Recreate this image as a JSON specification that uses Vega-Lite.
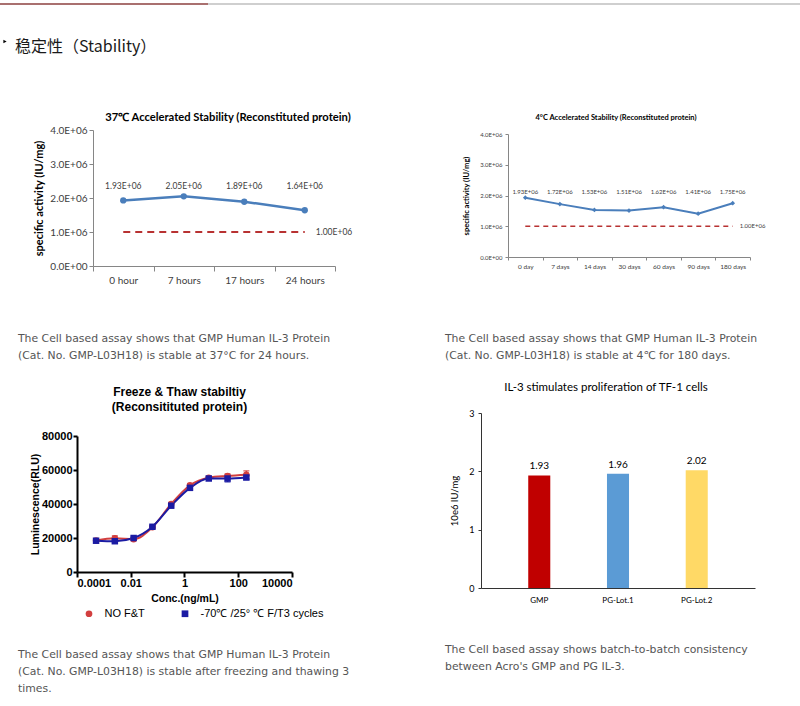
{
  "$schema": "https://vega.github.io/schema/vega-lite/v6.json",
  "padding": 0,
  "background": "white",
  "config": {"view": {"stroke": null}, "font": "Lato"},
  "resolve": {"scale": {"color": "independent", "shape": "independent"}, "legend": {"color": "independent", "shape": "independent"}},
  "datasets": {
    "s37": [
      {"time": "0 hour", "activity": 1930000, "label": "1.93E+06", "spec": 1000000, "specLabel": "1.00E+06"},
      {"time": "7 hours", "activity": 2050000, "label": "2.05E+06", "spec": 1000000, "specLabel": "1.00E+06"},
      {"time": "17 hours", "activity": 1890000, "label": "1.89E+06", "spec": 1000000, "specLabel": "1.00E+06"},
      {"time": "24 hours", "activity": 1640000, "label": "1.64E+06", "spec": 1000000, "specLabel": "1.00E+06"}
    ],
    "s4": [
      {"time": "0 day", "activity": 1930000, "label": "1.93E+06", "spec": 1000000, "specLabel": "1.00E+06"},
      {"time": "7 days", "activity": 1720000, "label": "1.72E+06", "spec": 1000000, "specLabel": "1.00E+06"},
      {"time": "14 days", "activity": 1530000, "label": "1.53E+06", "spec": 1000000, "specLabel": "1.00E+06"},
      {"time": "30 days", "activity": 1510000, "label": "1.51E+06", "spec": 1000000, "specLabel": "1.00E+06"},
      {"time": "60 days", "activity": 1620000, "label": "1.62E+06", "spec": 1000000, "specLabel": "1.00E+06"},
      {"time": "90 days", "activity": 1410000, "label": "1.41E+06", "spec": 1000000, "specLabel": "1.00E+06"},
      {"time": "180 days", "activity": 1750000, "label": "1.75E+06", "spec": 1000000, "specLabel": "1.00E+06"}
    ],
    "ft": [
      {"group": "NO F&T", "conc": 0.000512, "lum": 18500, "err": 300},
      {"group": "NO F&T", "conc": 0.00256, "lum": 19800, "err": 1500},
      {"group": "NO F&T", "conc": 0.0128, "lum": 19300, "err": 700},
      {"group": "NO F&T", "conc": 0.064, "lum": 26300, "err": 600},
      {"group": "NO F&T", "conc": 0.32, "lum": 40000, "err": 800},
      {"group": "NO F&T", "conc": 1.6, "lum": 51000, "err": 700},
      {"group": "NO F&T", "conc": 8, "lum": 55500, "err": 500},
      {"group": "NO F&T", "conc": 40, "lum": 56500, "err": 1200},
      {"group": "NO F&T", "conc": 200, "lum": 57200, "err": 2300},
      {"group": "-70℃ /25°  ℃ F/T3 cycles", "conc": 0.000512, "lum": 18400, "err": 400},
      {"group": "-70℃ /25°  ℃ F/T3 cycles", "conc": 0.00256, "lum": 18100, "err": 800},
      {"group": "-70℃ /25°  ℃ F/T3 cycles", "conc": 0.0128, "lum": 20000, "err": 600},
      {"group": "-70℃ /25°  ℃ F/T3 cycles", "conc": 0.064, "lum": 26600, "err": 500},
      {"group": "-70℃ /25°  ℃ F/T3 cycles", "conc": 0.32, "lum": 39000, "err": 700},
      {"group": "-70℃ /25°  ℃ F/T3 cycles", "conc": 1.6, "lum": 49500, "err": 700},
      {"group": "-70℃ /25°  ℃ F/T3 cycles", "conc": 8, "lum": 55000, "err": 500},
      {"group": "-70℃ /25°  ℃ F/T3 cycles", "conc": 40, "lum": 55000, "err": 2000},
      {"group": "-70℃ /25°  ℃ F/T3 cycles", "conc": 200, "lum": 55600, "err": 1200}
    ],
    "bars": [
      {"lot": "GMP", "value": 1.93},
      {"lot": "PG-Lot.1", "value": 1.96},
      {"lot": "PG-Lot.2", "value": 2.02}
    ]
  },
  "bounds": "flush",
  "spacing": 0,
  "vconcat": [
    {"width": 1, "height": 3, "data": {"values": []}, "mark": "point"},
    {
      "bounds": "flush", "spacing": 0,
      "hconcat": [
        {"width": 208, "height": 2, "data": {"values": [{}]}, "mark": {"type": "rect", "color": "#A9706F"}, "encoding": {}},
        {"width": 592, "height": 2, "data": {"values": [{}]}, "mark": {"type": "rect", "color": "#CFCFCF"}, "encoding": {}}
      ]
    },
    {"width": 1, "height": 35, "data": {"values": []}, "mark": "point"},
    {
      "bounds": "flush", "spacing": 0,
      "hconcat": [
        {"width": 10, "height": 7, "data": {"values": [{}]}, "mark": {"type": "point", "shape": "triangle-right", "filled": true, "color": "#000000", "size": 14, "opacity": 1}, "encoding": {}},
        {"width": 780, "height": 1, "data": {"values": []}, "mark": "point",
         "title": {"text": "稳定性（Stability）", "orient": "bottom", "anchor": "start", "frame": "group", "offset": 0, "dx": 5, "font": "Noto Sans CJK SC", "fontSize": 16, "fontWeight": "normal", "color": "#1a1a1a"}}
      ]
    },
    {"width": 1, "height": 91.3, "data": {"values": []}, "mark": "point"},
    {
      "bounds": "flush", "spacing": 0,
      "hconcat": [
        {"width": 93, "height": 1, "data": {"values": []}, "mark": "point"},
        {
          "width": 242, "height": 136,
          "data": {"name": "s37"},
          "title": {"text": "37℃ Accelerated  Stability (Reconstituted protein)", "font": "Lato", "fontSize": 11.2, "fontWeight": "bold", "color": "#000000", "frame": "group", "anchor": "middle", "dx": 14, "offset": 2},
          "encoding": {
            "x": {"field": "time", "type": "nominal", "sort": null,
                  "scale": {"type": "band", "paddingInner": 0, "paddingOuter": 0},
                  "axis": {"title": null, "labelAngle": 0, "tickBand": "extent", "labelFont": "Lato", "labelFontSize": 10, "labelColor": "#404040", "domainColor": "#868686", "tickColor": "#868686", "tickSize": 5, "labelPadding": 4}},
            "y": {"field": "activity", "type": "quantitative", "scale": {"domain": [0, 4000000], "nice": false},
               "axis": {"title": "specific activity (IU/mg)", "titleFont": "Lato", "titleFontSize": 11, "titleFontWeight": "bold", "titleColor": "#000000", "titlePadding": 5,
                        "values": [0, 1000000, 2000000, 3000000, 4000000], "labelOverlap": false,
                        "labelExpr": "datum.value == 0 ? '0.0E+00' : format(datum.value / 1000000, '.1f') + 'E+06'",
                        "labelFont": "Lato", "labelFontSize": 10, "labelColor": "#404040", "grid": false, "domainColor": "#868686", "tickColor": "#868686", "tickSize": 4, "labelPadding": 2}}
          },
          "layer": [
            {"mark": {"type": "line", "color": "#B83232", "strokeDash": [7, 5], "strokeWidth": 2},
             "encoding": {"y": {"field": "spec", "type": "quantitative"}}},
            {"mark": {"type": "line", "color": "#4A7EBB", "strokeWidth": 2.5, "point": {"filled": true, "size": 40, "color": "#4A7EBB"}}},
            {"mark": {"type": "text", "font": "Lato", "fontSize": 8.5, "color": "#404040"},
             "encoding": {"y": {"datum": 2350000, "type": "quantitative"}, "text": {"field": "label"}}},
            {"transform": [{"filter": "datum.time == '24 hours'"}],
             "mark": {"type": "text", "align": "left", "dx": 11, "font": "Lato", "fontSize": 8.5, "color": "#404040"},
             "encoding": {"y": {"field": "spec", "type": "quantitative"}, "text": {"field": "specLabel"}}}
          ]
        }
      ]
    },
    {"width": 1, "height": 4, "data": {"values": []}, "mark": "point"},
    {
      "bounds": "flush", "spacing": 0,
      "hconcat": [
        {"width": 508, "height": 1, "data": {"values": []}, "mark": "point"},
        {
          "width": 242, "height": 123,
          "data": {"name": "s4"},
          "title": {"text": "4°C Accelerated Stability (Reconstituted protein)", "font": "Lato", "fontSize": 7.5, "fontWeight": "bold", "color": "#000000", "frame": "group", "anchor": "middle", "dx": -13, "offset": 10},
          "encoding": {
            "x": {"field": "time", "type": "nominal", "sort": null,
                  "scale": {"type": "band", "paddingInner": 0, "paddingOuter": 0},
                  "axis": {"title": null, "labelAngle": 0, "tickBand": "extent", "labelFont": "Lato", "labelFontSize": 6.5, "labelColor": "#404040", "domainColor": "#868686", "tickColor": "#868686", "tickSize": 3, "labelPadding": 3.5}},
            "y": {"field": "activity", "type": "quantitative", "scale": {"domain": [0, 4000000], "nice": false},
               "axis": {"title": "specific activity (IU/mg)", "titleFont": "Lato", "titleFontSize": 7.5, "titleFontWeight": "bold", "titleColor": "#000000", "titlePadding": 9,
                        "values": [0, 1000000, 2000000, 3000000, 4000000], "labelOverlap": false,
                        "labelExpr": "datum.value == 0 ? '0.0E+00' : format(datum.value / 1000000, '.1f') + 'E+06'",
                        "labelFont": "Lato", "labelFontSize": 6, "labelColor": "#404040", "grid": false, "domainColor": "#868686", "tickColor": "#868686", "tickSize": 3, "labelPadding": 3}}
          },
          "layer": [
            {"mark": {"type": "line", "color": "#B83232", "strokeDash": [5, 4], "strokeWidth": 1.6},
             "encoding": {"y": {"field": "spec", "type": "quantitative"}}},
            {"mark": {"type": "line", "color": "#4A7EBB", "strokeWidth": 2, "point": {"filled": true, "size": 22, "shape": "diamond", "color": "#4A7EBB"}}},
            {"mark": {"type": "text", "font": "Lato", "fontSize": 6, "color": "#404040"},
             "encoding": {"y": {"datum": 2100000, "type": "quantitative"}, "text": {"field": "label"}}},
            {"transform": [{"filter": "datum.time == '180 days'"}],
             "mark": {"type": "text", "align": "left", "dx": 7, "font": "Lato", "fontSize": 6, "color": "#404040"},
             "encoding": {"y": {"field": "spec", "type": "quantitative"}, "text": {"field": "specLabel"}}}
          ]
        }
      ]
    },
    {"width": 1, "height": 197.4, "data": {"values": []}, "mark": "point"},
    {
      "bounds": "flush", "spacing": 0,
      "hconcat": [
        {"width": 18, "height": 1, "data": {"values": []}, "mark": "point"},
        {"width": 427, "height": 1, "data": {"values": []}, "mark": "point",
         "title": {"text": ["The Cell based assay shows that GMP Human IL-3 Protein", "(Cat. No. GMP-L03H18) is stable at 37°C for 24 hours."], "orient": "bottom", "anchor": "start", "frame": "group", "offset": 0, "font": "DejaVu Sans", "fontSize": 10.85, "fontWeight": "normal", "color": "#555555", "lineHeight": 17}},
        {"width": 10, "height": 1, "data": {"values": []}, "mark": "point",
         "title": {"text": ["The Cell based assay shows that GMP Human IL-3 Protein", "(Cat. No. GMP-L03H18) is stable at 4℃ for 180 days."], "orient": "bottom", "anchor": "start", "frame": "group", "offset": 0, "font": "DejaVu Sans", "fontSize": 10.85, "fontWeight": "normal", "color": "#555555", "lineHeight": 17}}
      ]
    },
    {"width": 1, "height": 80.6, "data": {"values": []}, "mark": "point"},
    {
      "bounds": "flush", "spacing": 0,
      "hconcat": [
        {"width": 481, "height": 1, "data": {"values": []}, "mark": "point"},
        {
          "width": 274, "height": 175,
          "data": {"name": "bars"},
          "title": {"text": "IL-3 stimulates proliferation of  TF-1 cells", "font": "Lato", "fontSize": 11.5, "fontWeight": "normal", "color": "#000000", "frame": "group", "anchor": "middle", "dx": -12, "offset": 16},
          "encoding": {
            "x": {"field": "lot", "type": "nominal", "sort": null,
                  "scale": {"paddingInner": 0.72, "paddingOuter": 0.6},
                  "axis": {"title": null, "labelAngle": 0, "ticks": false, "labelFont": "Lato", "labelFontSize": 8, "labelColor": "#000000", "domainColor": "#333333", "labelPadding": 8}},
            "y": {"field": "value", "type": "quantitative", "scale": {"domain": [0, 3], "nice": false},
                  "axis": {"title": "10e6 IU/mg", "titleFont": "Lato", "titleFontSize": 9.5, "titleFontWeight": "normal", "titleColor": "#000000", "titlePadding": 9,
                           "values": [0, 1, 2, 3], "format": "d", "labelFont": "Lato", "labelFontSize": 9, "labelColor": "#000000", "grid": false, "domainColor": "#333333", "tickColor": "#333333", "tickSize": 3, "labelPadding": 4}}
          },
          "layer": [
            {"mark": {"type": "bar"},
             "encoding": {"color": {"field": "lot", "type": "nominal", "scale": {"domain": ["GMP", "PG-Lot.1", "PG-Lot.2"], "range": ["#C00000", "#5B9BD5", "#FFD966"]}, "legend": null}}},
            {"mark": {"type": "text", "dy": -9, "font": "Lato", "fontSize": 10, "color": "#000000"},
             "encoding": {"text": {"field": "value", "type": "quantitative", "format": ".2f"}}}
          ]
        }
      ]
    },
    {"width": 1, "height": 22.2, "data": {"values": []}, "mark": "point"},
    {
      "bounds": "flush", "spacing": 0,
      "hconcat": [
        {"width": 77, "height": 1, "data": {"values": []}, "mark": "point"},
        {
          "width": 215, "height": 136,
          "data": {"name": "ft"},
          "title": {"text": ["Freeze & Thaw stabiltiy", "(Reconsitituted protein)"], "font": "Liberation Sans", "fontSize": 12, "fontWeight": "bold", "color": "#000000", "frame": "group", "anchor": "middle", "dx": -5, "offset": 16, "lineHeight": 15.5},
          "encoding": {
            "x": {"field": "conc", "type": "quantitative",
                  "scale": {"type": "log", "domain": [0.0001, 10000], "nice": false},
                  "axis": {"title": "Conc.(ng/mL)", "titleFont": "Liberation Sans", "titleFontSize": 10.5, "titleFontWeight": "bold", "titleColor": "#000000", "titlePadding": 5,
                           "values": [0.0001, 0.01, 1, 100, 10000], "format": "~f", "labelOverlap": false,
                           "labelFont": "Liberation Sans", "labelFontSize": 11, "labelFontWeight": "bold", "labelColor": "#000000", "labelPadding": 0,
                           "grid": false, "domainColor": "#000000", "domainWidth": 2, "tickColor": "#000000", "tickWidth": 2, "tickSize": 5}},
            "y": {"field": "lum", "type": "quantitative",
                  "scale": {"domain": [0, 80000], "nice": false},
                  "axis": {"title": "Luminescence(RLU)", "titleFont": "Liberation Sans", "titleFontSize": 10.5, "titleFontWeight": "bold", "titleColor": "#000000", "titlePadding": 1,
                           "values": [0, 20000, 40000, 60000, 80000], "format": "d", "labelOverlap": false,
                           "labelFont": "Liberation Sans", "labelFontSize": 11, "labelFontWeight": "bold", "labelColor": "#000000", "labelPadding": 1,
                           "grid": false, "domainColor": "#000000", "domainWidth": 2, "tickColor": "#000000", "tickWidth": 2, "tickSize": 4}}
          },
          "layer": [
            {"transform": [{"filter": "datum.group == 'NO F&T'"}],
             "mark": {"type": "errorbar", "ticks": true, "size": 6, "thickness": 1.5, "color": "#D23F3F"},
             "encoding": {"yError": {"field": "err"}}},
            {"transform": [{"filter": "datum.group == 'NO F&T'"}],
             "mark": {"type": "line", "interpolate": "monotone", "color": "#D23F3F", "strokeWidth": 2}},
            {"transform": [{"filter": "datum.group != 'NO F&T'"}],
             "mark": {"type": "errorbar", "ticks": true, "size": 6, "thickness": 1.5, "color": "#1B1BA3"},
             "encoding": {"yError": {"field": "err"}}},
            {"transform": [{"filter": "datum.group != 'NO F&T'"}],
             "mark": {"type": "line", "interpolate": "monotone", "color": "#1B1BA3", "strokeWidth": 2}},
            {"mark": {"type": "point", "filled": true, "size": 42, "opacity": 1},
             "encoding": {
               "color": {"field": "group", "type": "nominal", "sort": null,
                         "scale": {"domain": ["NO F&T", "-70℃ /25°  ℃ F/T3 cycles"], "range": ["#D23F3F", "#1B1BA3"]},
                         "legend": {"orient": "none", "legendX": 83.5, "legendY": 172, "padding": 0, "direction": "horizontal", "title": null, "labelFont": "Liberation Sans", "labelFontSize": 11, "labelColor": "#000000", "symbolSize": 45, "labelOffset": 10, "columnPadding": 34}},
               "shape": {"field": "group", "type": "nominal", "sort": null,
                         "scale": {"domain": ["NO F&T", "-70℃ /25°  ℃ F/T3 cycles"], "range": ["circle", "square"]},
                         "legend": {"orient": "none", "legendX": 83.5, "legendY": 172, "padding": 0, "direction": "horizontal", "title": null, "labelFont": "Liberation Sans", "labelFontSize": 11, "labelColor": "#000000", "symbolSize": 45, "labelOffset": 10, "columnPadding": 34}}
             }}
          ]
        }
      ]
    },
    {"width": 1, "height": 206.2, "data": {"values": []}, "mark": "point"},
    {
      "bounds": "flush", "spacing": 0,
      "hconcat": [
        {"width": 445, "height": 1, "data": {"values": []}, "mark": "point"},
        {"width": 10, "height": 1, "data": {"values": []}, "mark": "point",
         "title": {"text": ["The Cell based assay shows batch-to-batch consistency", "between Acro's GMP and PG IL-3."], "orient": "bottom", "anchor": "start", "frame": "group", "offset": 0, "font": "DejaVu Sans", "fontSize": 10.85, "fontWeight": "normal", "color": "#555555", "lineHeight": 17}}
      ]
    },
    {"width": 1, "height": 5, "data": {"values": []}, "mark": "point"},
    {
      "bounds": "flush", "spacing": 0,
      "hconcat": [
        {"width": 18, "height": 1, "data": {"values": []}, "mark": "point"},
        {"width": 10, "height": 1, "data": {"values": []}, "mark": "point",
         "title": {"text": ["The Cell based assay shows that GMP Human IL-3 Protein", "(Cat. No. GMP-L03H18) is stable after freezing and thawing 3", "times."], "orient": "bottom", "anchor": "start", "frame": "group", "offset": 0, "font": "DejaVu Sans", "fontSize": 10.85, "fontWeight": "normal", "color": "#555555", "lineHeight": 17}}
      ]
    }
  ]
}
